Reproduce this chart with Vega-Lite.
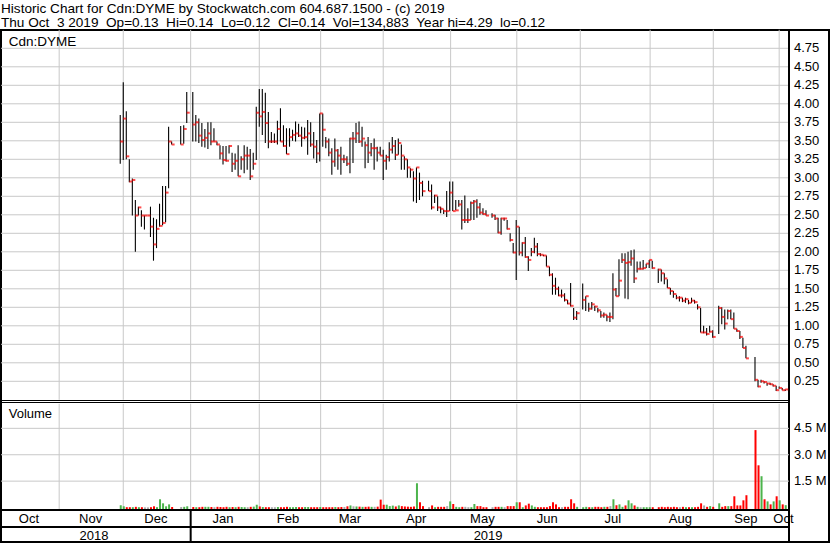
{
"$schema": "https://vega.github.io/schema/vega-lite/v6.json",
"width": 828, "height": 512,
"autosize": "none",
"padding": {"top": 30, "left": 1, "right": 1, "bottom": 1},
"background": "white",
"config": {"view": {"stroke": "#000", "strokeWidth": 2}, "font": "Liberation Sans"},
"title": {"text": ["Historic Chart for Cdn:DYME by Stockwatch.com 604.687.1500 - (c) 2019", "Thu Oct \u00a03 2019 \u00a0Op=0.13 \u00a0Hi=0.14 \u00a0Lo=0.12 \u00a0Cl=0.14 \u00a0Vol=134,883 \u00a0Year hi=4.29 \u00a0lo=0.12"], "anchor": "start", "frame": "group", "orient": "top", "offset": -15, "baseline": "bottom", "font": "Liberation Sans", "fontSize": 13.6, "fontWeight": "normal", "color": "#000", "lineHeight": 14},
"datasets": {
"bars": [
{"k":20,"h":3.85,"l":3.19,"c":3.49,"v":130000,"d":"up"},
{"k":21,"h":4.29,"l":3.24,"c":3.80,"v":70000,"d":"up"},
{"k":22,"h":3.90,"l":3.25,"c":3.29,"v":20000,"d":"down"},
{"k":23,"h":3.25,"l":2.94,"c":2.95,"v":20000,"d":"down"},
{"k":24,"h":2.99,"l":2.49,"c":2.97,"v":20000,"d":"up"},
{"k":25,"h":2.70,"l":2.00,"c":2.49,"v":40000,"d":"down"},
{"k":26,"h":2.61,"l":2.49,"c":2.60,"v":20000,"d":"up"},
{"k":27,"h":2.56,"l":2.34,"c":2.49,"v":20000,"d":"down"},
{"k":28,"h":2.49,"l":2.30,"c":2.49,"v":10000,"d":"flat"},
{"k":29,"h":2.49,"l":2.49,"c":2.49,"v":10000,"d":"flat"},
{"k":30,"h":2.61,"l":2.20,"c":2.34,"v":20000,"d":"down"},
{"k":31,"h":2.46,"l":1.88,"c":2.10,"v":70000,"d":"down"},
{"k":32,"h":2.44,"l":2.05,"c":2.31,"v":20000,"d":"up"},
{"k":33,"h":2.65,"l":2.34,"c":2.35,"v":470000,"d":"up"},
{"k":34,"h":2.89,"l":2.36,"c":2.39,"v":240000,"d":"up"},
{"k":35,"h":2.89,"l":2.40,"c":2.80,"v":70000,"d":"up"},
{"k":36,"h":3.69,"l":2.86,"c":3.49,"v":180000,"d":"up"},
{"k":37,"h":3.49,"l":3.45,"c":3.45,"v":30000,"d":"down"},
{"k":40,"h":3.70,"l":3.45,"c":3.45,"v":30000,"d":"flat"},
{"k":41,"h":3.71,"l":3.46,"c":3.66,"v":40000,"d":"up"},
{"k":42,"h":4.16,"l":3.74,"c":3.88,"v":70000,"d":"up"},
{"k":44,"h":4.16,"l":3.49,"c":3.72,"v":30000,"d":"down"},
{"k":45,"h":3.85,"l":3.49,"c":3.75,"v":20000,"d":"up"},
{"k":46,"h":3.80,"l":3.47,"c":3.57,"v":20000,"d":"down"},
{"k":47,"h":3.74,"l":3.42,"c":3.51,"v":40000,"d":"down"},
{"k":48,"h":3.66,"l":3.41,"c":3.54,"v":40000,"d":"up"},
{"k":49,"h":3.75,"l":3.39,"c":3.60,"v":40000,"d":"up"},
{"k":50,"h":3.75,"l":3.44,"c":3.49,"v":30000,"d":"down"},
{"k":51,"h":3.67,"l":3.49,"c":3.49,"v":20000,"d":"flat"},
{"k":52,"h":3.49,"l":3.44,"c":3.45,"v":40000,"d":"down"},
{"k":53,"h":3.44,"l":3.25,"c":3.33,"v":30000,"d":"down"},
{"k":54,"h":3.43,"l":3.18,"c":3.24,"v":20000,"d":"down"},
{"k":55,"h":3.43,"l":3.22,"c":3.23,"v":40000,"d":"down"},
{"k":56,"h":3.44,"l":3.33,"c":3.43,"v":20000,"d":"up"},
{"k":57,"h":3.34,"l":3.08,"c":3.19,"v":30000,"d":"down"},
{"k":58,"h":3.33,"l":3.11,"c":3.23,"v":20000,"d":"up"},
{"k":59,"h":3.44,"l":3.02,"c":3.02,"v":40000,"d":"down"},
{"k":60,"h":3.29,"l":3.11,"c":3.25,"v":30000,"d":"up"},
{"k":61,"h":3.44,"l":3.06,"c":3.30,"v":20000,"d":"up"},
{"k":62,"h":3.42,"l":3.11,"c":3.30,"v":20000,"d":"flat"},
{"k":63,"h":3.39,"l":2.97,"c":3.02,"v":40000,"d":"down"},
{"k":64,"h":3.34,"l":3.11,"c":3.19,"v":50000,"d":"up"},
{"k":65,"h":3.96,"l":3.24,"c":3.88,"v":160000,"d":"up"},
{"k":66,"h":4.20,"l":3.69,"c":3.83,"v":60000,"d":"down"},
{"k":67,"h":4.20,"l":3.58,"c":3.89,"v":30000,"d":"up"},
{"k":68,"h":4.15,"l":3.47,"c":3.74,"v":20000,"d":"down"},
{"k":69,"h":3.89,"l":3.40,"c":3.49,"v":20000,"d":"down"},
{"k":70,"h":3.62,"l":3.47,"c":3.49,"v":20000,"d":"flat"},
{"k":71,"h":3.60,"l":3.47,"c":3.49,"v":20000,"d":"flat"},
{"k":72,"h":3.77,"l":3.45,"c":3.66,"v":30000,"d":"up"},
{"k":73,"h":3.94,"l":3.49,"c":3.49,"v":20000,"d":"down"},
{"k":74,"h":3.71,"l":3.42,"c":3.43,"v":20000,"d":"down"},
{"k":75,"h":3.67,"l":3.32,"c":3.32,"v":40000,"d":"down"},
{"k":76,"h":3.67,"l":3.42,"c":3.55,"v":20000,"d":"up"},
{"k":77,"h":3.65,"l":3.50,"c":3.58,"v":20000,"d":"up"},
{"k":78,"h":3.76,"l":3.49,"c":3.60,"v":30000,"d":"up"},
{"k":79,"h":3.73,"l":3.55,"c":3.57,"v":20000,"d":"down"},
{"k":80,"h":3.69,"l":3.42,"c":3.54,"v":20000,"d":"down"},
{"k":81,"h":3.68,"l":3.52,"c":3.55,"v":30000,"d":"up"},
{"k":82,"h":3.78,"l":3.31,"c":3.60,"v":30000,"d":"up"},
{"k":83,"h":3.75,"l":3.42,"c":3.45,"v":20000,"d":"down"},
{"k":84,"h":3.62,"l":3.26,"c":3.42,"v":20000,"d":"down"},
{"k":85,"h":3.51,"l":3.20,"c":3.33,"v":20000,"d":"down"},
{"k":86,"h":3.87,"l":3.22,"c":3.87,"v":30000,"d":"up"},
{"k":87,"h":3.87,"l":3.42,"c":3.65,"v":20000,"d":"down"},
{"k":88,"h":3.55,"l":3.40,"c":3.49,"v":20000,"d":"down"},
{"k":89,"h":3.53,"l":3.29,"c":3.34,"v":20000,"d":"down"},
{"k":90,"h":3.40,"l":3.04,"c":3.22,"v":20000,"d":"down"},
{"k":91,"h":3.53,"l":3.15,"c":3.37,"v":30000,"d":"up"},
{"k":92,"h":3.39,"l":3.11,"c":3.30,"v":20000,"d":"down"},
{"k":93,"h":3.42,"l":3.04,"c":3.25,"v":30000,"d":"down"},
{"k":94,"h":3.31,"l":3.20,"c":3.25,"v":30000,"d":"flat"},
{"k":95,"h":3.29,"l":3.16,"c":3.19,"v":70000,"d":"down"},
{"k":96,"h":3.54,"l":3.06,"c":3.53,"v":120000,"d":"up"},
{"k":97,"h":3.62,"l":3.20,"c":3.53,"v":70000,"d":"flat"},
{"k":98,"h":3.74,"l":3.47,"c":3.60,"v":60000,"d":"up"},
{"k":99,"h":3.76,"l":3.47,"c":3.49,"v":50000,"d":"down"},
{"k":100,"h":3.69,"l":3.42,"c":3.53,"v":40000,"d":"up"},
{"k":101,"h":3.49,"l":3.13,"c":3.44,"v":40000,"d":"down"},
{"k":102,"h":3.55,"l":3.20,"c":3.34,"v":50000,"d":"down"},
{"k":103,"h":3.47,"l":3.29,"c":3.40,"v":40000,"d":"up"},
{"k":104,"h":3.53,"l":3.11,"c":3.40,"v":40000,"d":"flat"},
{"k":105,"h":3.42,"l":3.22,"c":3.34,"v":50000,"d":"down"},
{"k":106,"h":3.42,"l":3.30,"c":3.30,"v":450000,"d":"down"},
{"k":107,"h":3.38,"l":2.97,"c":3.23,"v":160000,"d":"down"},
{"k":108,"h":3.31,"l":3.11,"c":3.28,"v":160000,"d":"up"},
{"k":109,"h":3.48,"l":3.22,"c":3.38,"v":80000,"d":"up"},
{"k":110,"h":3.55,"l":3.33,"c":3.43,"v":110000,"d":"up"},
{"k":111,"h":3.51,"l":3.24,"c":3.31,"v":60000,"d":"down"},
{"k":112,"h":3.53,"l":3.31,"c":3.47,"v":120000,"d":"up"},
{"k":113,"h":3.45,"l":3.11,"c":3.30,"v":80000,"d":"down"},
{"k":114,"h":3.29,"l":3.11,"c":3.25,"v":60000,"d":"down"},
{"k":115,"h":3.25,"l":3.00,"c":3.14,"v":50000,"d":"down"},
{"k":116,"h":3.13,"l":3.00,"c":3.11,"v":40000,"d":"down"},
{"k":117,"h":3.09,"l":2.68,"c":2.99,"v":60000,"d":"down"},
{"k":118,"h":3.14,"l":2.66,"c":3.14,"v":1380000,"d":"up"},
{"k":119,"h":3.07,"l":2.70,"c":2.93,"v":300000,"d":"down"},
{"k":120,"h":2.96,"l":2.75,"c":2.82,"v":80000,"d":"down"},
{"k":122,"h":2.96,"l":2.82,"c":2.82,"v":20000,"d":"flat"},
{"k":123,"h":2.91,"l":2.57,"c":2.60,"v":120000,"d":"down"},
{"k":124,"h":2.77,"l":2.66,"c":2.76,"v":20000,"d":"up"},
{"k":125,"h":2.75,"l":2.55,"c":2.60,"v":40000,"d":"down"},
{"k":126,"h":2.61,"l":2.52,"c":2.58,"v":40000,"d":"down"},
{"k":127,"h":2.57,"l":2.51,"c":2.55,"v":40000,"d":"down"},
{"k":128,"h":2.82,"l":2.47,"c":2.55,"v":80000,"d":"flat"},
{"k":129,"h":2.95,"l":2.55,"c":2.80,"v":350000,"d":"up"},
{"k":130,"h":2.95,"l":2.55,"c":2.55,"v":200000,"d":"down"},
{"k":131,"h":2.70,"l":2.56,"c":2.56,"v":40000,"d":"up"},
{"k":132,"h":2.70,"l":2.61,"c":2.64,"v":20000,"d":"up"},
{"k":133,"h":2.70,"l":2.30,"c":2.43,"v":40000,"d":"down"},
{"k":134,"h":2.76,"l":2.39,"c":2.43,"v":40000,"d":"flat"},
{"k":135,"h":2.59,"l":2.39,"c":2.43,"v":20000,"d":"flat"},
{"k":136,"h":2.68,"l":2.43,"c":2.66,"v":20000,"d":"up"},
{"k":137,"h":2.70,"l":2.43,"c":2.68,"v":200000,"d":"up"},
{"k":138,"h":2.71,"l":2.46,"c":2.60,"v":80000,"d":"down"},
{"k":139,"h":2.66,"l":2.50,"c":2.53,"v":80000,"d":"down"},
{"k":140,"h":2.59,"l":2.50,"c":2.51,"v":20000,"d":"down"},
{"k":141,"h":2.56,"l":2.49,"c":2.49,"v":20000,"d":"down"},
{"k":143,"h":2.52,"l":2.46,"c":2.49,"v":20000,"d":"flat"},
{"k":144,"h":2.50,"l":2.43,"c":2.45,"v":40000,"d":"down"},
{"k":145,"h":2.46,"l":2.25,"c":2.26,"v":40000,"d":"down"},
{"k":146,"h":2.46,"l":2.23,"c":2.45,"v":40000,"d":"up"},
{"k":147,"h":2.46,"l":2.42,"c":2.45,"v":20000,"d":"flat"},
{"k":148,"h":2.43,"l":2.30,"c":2.31,"v":80000,"d":"down"},
{"k":149,"h":2.25,"l":2.14,"c":2.16,"v":80000,"d":"down"},
{"k":150,"h":2.12,"l":1.98,"c":1.99,"v":80000,"d":"down"},
{"k":151,"h":2.43,"l":1.62,"c":2.34,"v":300000,"d":"up"},
{"k":152,"h":2.34,"l":1.95,"c":1.99,"v":300000,"d":"down"},
{"k":153,"h":2.13,"l":1.94,"c":2.12,"v":20000,"d":"up"},
{"k":154,"h":2.20,"l":1.92,"c":1.93,"v":120000,"d":"down"},
{"k":155,"h":1.94,"l":1.74,"c":1.89,"v":220000,"d":"down"},
{"k":156,"h":2.05,"l":1.94,"c":2.00,"v":120000,"d":"up"},
{"k":157,"h":2.19,"l":1.98,"c":2.07,"v":40000,"d":"up"},
{"k":158,"h":2.12,"l":1.94,"c":1.97,"v":20000,"d":"down"},
{"k":159,"h":1.98,"l":1.94,"c":1.96,"v":20000,"d":"down"},
{"k":160,"h":1.96,"l":1.94,"c":1.95,"v":20000,"d":"down"},
{"k":161,"h":1.95,"l":1.80,"c":1.80,"v":20000,"d":"down"},
{"k":162,"h":1.80,"l":1.67,"c":1.69,"v":80000,"d":"down"},
{"k":163,"h":1.71,"l":1.42,"c":1.54,"v":300000,"d":"down"},
{"k":164,"h":1.65,"l":1.42,"c":1.50,"v":180000,"d":"down"},
{"k":165,"h":1.53,"l":1.40,"c":1.41,"v":20000,"d":"down"},
{"k":166,"h":1.49,"l":1.38,"c":1.41,"v":20000,"d":"flat"},
{"k":167,"h":1.44,"l":1.33,"c":1.35,"v":40000,"d":"down"},
{"k":168,"h":1.35,"l":1.29,"c":1.30,"v":40000,"d":"down"},
{"k":169,"h":1.58,"l":1.26,"c":1.27,"v":470000,"d":"down"},
{"k":170,"h":1.24,"l":1.08,"c":1.11,"v":240000,"d":"down"},
{"k":171,"h":1.20,"l":1.08,"c":1.17,"v":40000,"d":"up"},
{"k":173,"h":1.57,"l":1.22,"c":1.35,"v":20000,"d":"up"},
{"k":174,"h":1.40,"l":1.20,"c":1.40,"v":40000,"d":"up"},
{"k":175,"h":1.31,"l":1.19,"c":1.23,"v":20000,"d":"down"},
{"k":176,"h":1.32,"l":1.22,"c":1.29,"v":20000,"d":"up"},
{"k":177,"h":1.27,"l":1.20,"c":1.26,"v":40000,"d":"down"},
{"k":178,"h":1.24,"l":1.18,"c":1.21,"v":40000,"d":"down"},
{"k":179,"h":1.20,"l":1.11,"c":1.14,"v":20000,"d":"down"},
{"k":180,"h":1.18,"l":1.11,"c":1.15,"v":40000,"d":"up"},
{"k":181,"h":1.15,"l":1.06,"c":1.12,"v":40000,"d":"down"},
{"k":182,"h":1.18,"l":1.05,"c":1.12,"v":80000,"d":"flat"},
{"k":183,"h":1.71,"l":1.09,"c":1.49,"v":470000,"d":"up"},
{"k":184,"h":1.51,"l":1.40,"c":1.40,"v":130000,"d":"down"},
{"k":185,"h":1.90,"l":1.40,"c":1.61,"v":180000,"d":"up"},
{"k":186,"h":1.98,"l":1.85,"c":1.89,"v":40000,"d":"up"},
{"k":187,"h":1.98,"l":1.37,"c":1.85,"v":120000,"d":"down"},
{"k":188,"h":2.00,"l":1.36,"c":1.86,"v":410000,"d":"up"},
{"k":189,"h":2.02,"l":1.81,"c":1.91,"v":240000,"d":"up"},
{"k":190,"h":2.03,"l":1.58,"c":1.64,"v":120000,"d":"down"},
{"k":191,"h":1.87,"l":1.72,"c":1.77,"v":40000,"d":"up"},
{"k":192,"h":1.87,"l":1.76,"c":1.77,"v":20000,"d":"flat"},
{"k":193,"h":1.89,"l":1.76,"c":1.78,"v":20000,"d":"up"},
{"k":194,"h":1.84,"l":1.78,"c":1.84,"v":20000,"d":"up"},
{"k":195,"h":1.89,"l":1.78,"c":1.89,"v":20000,"d":"up"},
{"k":196,"h":1.88,"l":1.77,"c":1.78,"v":20000,"d":"down"},
{"k":198,"h":1.77,"l":1.58,"c":1.76,"v":20000,"d":"down"},
{"k":199,"h":1.76,"l":1.60,"c":1.71,"v":40000,"d":"down"},
{"k":200,"h":1.71,"l":1.56,"c":1.64,"v":20000,"d":"down"},
{"k":201,"h":1.63,"l":1.51,"c":1.51,"v":40000,"d":"down"},
{"k":202,"h":1.51,"l":1.42,"c":1.47,"v":20000,"d":"down"},
{"k":203,"h":1.47,"l":1.38,"c":1.43,"v":40000,"d":"down"},
{"k":204,"h":1.42,"l":1.36,"c":1.38,"v":20000,"d":"down"},
{"k":205,"h":1.40,"l":1.33,"c":1.38,"v":20000,"d":"flat"},
{"k":206,"h":1.38,"l":1.32,"c":1.34,"v":40000,"d":"down"},
{"k":207,"h":1.38,"l":1.31,"c":1.36,"v":20000,"d":"up"},
{"k":208,"h":1.35,"l":1.29,"c":1.31,"v":20000,"d":"down"},
{"k":209,"h":1.38,"l":1.31,"c":1.34,"v":20000,"d":"up"},
{"k":210,"h":1.35,"l":1.30,"c":1.32,"v":20000,"d":"down"},
{"k":211,"h":1.29,"l":1.22,"c":1.25,"v":40000,"d":"down"},
{"k":212,"h":1.24,"l":0.91,"c":0.91,"v":240000,"d":"down"},
{"k":213,"h":1.00,"l":0.90,"c":0.91,"v":120000,"d":"flat"},
{"k":214,"h":0.97,"l":0.87,"c":0.89,"v":40000,"d":"down"},
{"k":215,"h":1.00,"l":0.91,"c":0.92,"v":80000,"d":"up"},
{"k":216,"h":0.94,"l":0.84,"c":0.85,"v":40000,"d":"down"},
{"k":218,"h":1.27,"l":0.89,"c":1.24,"v":240000,"d":"up"},
{"k":219,"h":1.25,"l":1.02,"c":1.12,"v":40000,"d":"down"},
{"k":220,"h":1.22,"l":0.95,"c":1.03,"v":80000,"d":"down"},
{"k":221,"h":1.22,"l":1.09,"c":1.20,"v":80000,"d":"up"},
{"k":222,"h":1.22,"l":1.09,"c":1.09,"v":80000,"d":"down"},
{"k":223,"h":1.18,"l":0.96,"c":0.96,"v":640000,"d":"down"},
{"k":224,"h":0.96,"l":0.92,"c":0.93,"v":120000,"d":"down"},
{"k":225,"h":0.93,"l":0.82,"c":0.85,"v":120000,"d":"down"},
{"k":226,"h":0.84,"l":0.70,"c":0.70,"v":410000,"d":"down"},
{"k":227,"h":0.73,"l":0.56,"c":0.56,"v":700000,"d":"down"},
{"k":230,"h":0.58,"l":0.25,"c":0.27,"v":4400000,"d":"down"},
{"k":231,"h":0.27,"l":0.17,"c":0.18,"v":2400000,"d":"down"},
{"k":232,"h":0.27,"l":0.23,"c":0.25,"v":1780000,"d":"up"},
{"k":233,"h":0.25,"l":0.22,"c":0.24,"v":470000,"d":"down"},
{"k":234,"h":0.23,"l":0.19,"c":0.22,"v":350000,"d":"up"},
{"k":235,"h":0.23,"l":0.20,"c":0.21,"v":180000,"d":"down"},
{"k":236,"h":0.21,"l":0.18,"c":0.19,"v":350000,"d":"up"},
{"k":237,"h":0.19,"l":0.12,"c":0.13,"v":640000,"d":"down"},
{"k":238,"h":0.18,"l":0.15,"c":0.16,"v":410000,"d":"up"},
{"k":239,"h":0.16,"l":0.13,"c":0.13,"v":180000,"d":"down"},
{"k":240,"h":0.14,"l":0.12,"c":0.14,"v":134883,"d":"up"}
],
"mgrid": [{"k":-0.2},{"k":21},{"k":43.3},{"k":66},{"k":86.3},{"k":107},{"k":129.3},{"k":151.2},{"k":172.2},{"k":195.3},{"k":216.2},{"k":238}],
"pgrid": [{"p":0.25},{"p":0.5},{"p":0.75},{"p":1},{"p":1.25},{"p":1.5},{"p":1.75},{"p":2},{"p":2.25},{"p":2.5},{"p":2.75},{"p":3},{"p":3.25},{"p":3.5},{"p":3.75},{"p":4},{"p":4.25},{"p":4.5},{"p":4.75}],
"vgrid": [{"v":1500000,"t":"1.5 M"},{"v":3000000,"t":"3.0 M"},{"v":4500000,"t":"4.5 M"}],
"months": [{"k":-10.2,"m":"Oct"},{"k":10.2,"m":"Nov"},{"k":31.8,"m":"Dec"},{"k":54.0,"m":"Jan"},{"k":75.5,"m":"Feb"},{"k":96.0,"m":"Mar"},{"k":117.9,"m":"Apr"},{"k":139.8,"m":"May"},{"k":161.3,"m":"Jun"},{"k":183.0,"m":"Jul"},{"k":205.3,"m":"Aug"},{"k":227.0,"m":"Sep"},{"k":239.4,"m":"Oct"}],
"years": [{"k":11.3,"t":"2018"},{"k":141.7,"t":"2019"}],
"lab1": [{"t":"Cdn:DYME"}],
"lab2": [{"t":"Volume"}]
},
"layer": [
{"layer": [
 {"data": {"name": "pgrid"}, "mark": {"type": "rule", "color": "#c8c8c8", "strokeWidth": 1},
  "encoding": {"y": {"field": "p", "type": "quantitative", "scale": {"domain": [0, 5], "range": [369.8, -0.2], "nice": false, "zero": false, "padding": 0}, "axis": null},
   "x": {"datum": -19.45, "type": "quantitative", "scale": {"domain": [-19.45, 241.25], "range": [0, 788], "nice": false, "zero": false, "padding": 0}, "axis": null}, "x2": {"datum": 241.25}}},
 {"data": {"name": "mgrid"}, "mark": {"type": "rule", "color": "#c8c8c8", "strokeWidth": 1},
  "encoding": {"x": {"field": "k", "type": "quantitative", "axis": null},
   "y": {"datum": 0, "type": "quantitative", "axis": null}, "y2": {"datum": 5}}},
 {"data": {"name": "lab1"}, "mark": {"type": "rule", "color": "#000", "strokeWidth": 1},
  "encoding": {"x": {"datum": -19.45, "type": "quantitative", "axis": null}, "x2": {"datum": 241.25}, "y": {"datum": -0.0095, "type": "quantitative", "axis": null}}},
 {"data": {"name": "lab1"}, "mark": {"type": "rule", "color": "#000", "strokeWidth": 2},
  "encoding": {"x": {"datum": 241.25, "type": "quantitative", "axis": null}, "y": {"datum": 5, "type": "quantitative", "axis": null}, "y2": {"datum": -1.93}}},
 {"data": {"name": "bars"}, "mark": {"type": "rule", "color": "#000", "strokeWidth": 1.1},
  "encoding": {"x": {"field": "k", "type": "quantitative", "axis": null},
   "y": {"field": "h", "type": "quantitative", "axis": null}, "y2": {"field": "l"}}},
 {"data": {"name": "bars"}, "mark": {"type": "tick", "color": "#ff0000", "orient": "horizontal", "size": 3, "thickness": 2, "xOffset": 1.5},
  "encoding": {"x": {"field": "k", "type": "quantitative", "axis": null}, "y": {"field": "c", "type": "quantitative", "axis": null}}},
 {"data": {"name": "pgrid"}, "mark": {"type": "text", "align": "left", "baseline": "middle", "dx": 5, "fontSize": 13, "font": "Liberation Sans", "color": "#000"},
  "encoding": {"x": {"datum": 241.25, "type": "quantitative", "axis": null}, "y": {"field": "p", "type": "quantitative", "axis": null}, "text": {"field": "p", "type": "quantitative", "format": ".2f"}}},
 {"data": {"name": "lab1"}, "mark": {"type": "text", "align": "left", "baseline": "alphabetic", "fontSize": 13.5, "font": "Liberation Sans", "color": "#000"},
  "encoding": {"x": {"datum": -16.9, "type": "quantitative", "axis": null}, "y": {"datum": 4.78, "type": "quantitative", "axis": null}, "text": {"field": "t"}}}
]},
{"layer": [
 {"data": {"name": "vgrid"}, "mark": {"type": "rule", "color": "#c8c8c8", "strokeWidth": 1},
  "encoding": {"y": {"field": "v", "type": "quantitative", "scale": {"domain": [-100000, 5900000], "range": [479.3, 373.7], "nice": false, "zero": false, "padding": 0}, "axis": null},
   "x": {"datum": -19.45, "type": "quantitative", "axis": null}, "x2": {"datum": 241.25}}},
 {"data": {"name": "mgrid"}, "mark": {"type": "rule", "color": "#c8c8c8", "strokeWidth": 1},
  "encoding": {"x": {"field": "k", "type": "quantitative", "axis": null},
   "y": {"datum": -100000, "type": "quantitative", "axis": null}, "y2": {"datum": 5900000}}},
 {"data": {"name": "bars"}, "mark": {"type": "bar", "size": 2, "xOffset": 0.5},
  "encoding": {
   "x": {"field": "k", "type": "quantitative", "scale": {"domain": [-19.45, 241.25], "range": [0, 788], "nice": false, "zero": false, "padding": 0}, "axis": null},
   "y": {"field": "v", "type": "quantitative", "axis": null},
   "y2": {"datum": -100000},
   "color": {"field": "d", "type": "nominal", "scale": {"domain": ["up", "down", "flat"], "range": ["#4cb44c", "#ff0000", "#a8a8a8"]}, "legend": null}}},
 {"data": {"name": "lab2"}, "mark": {"type": "rule", "color": "#000", "strokeWidth": 1},
  "encoding": {"x": {"datum": -19.45, "type": "quantitative", "axis": null}, "x2": {"datum": 241.25}, "y": {"datum": 5968000, "type": "quantitative", "axis": null}}},
 {"data": {"name": "lab2"}, "mark": {"type": "rule", "color": "#000", "strokeWidth": 2},
  "encoding": {"x": {"datum": -19.45, "type": "quantitative", "axis": null}, "x2": {"datum": 241.25}, "y": {"datum": -139800, "type": "quantitative", "axis": null}}},
 {"data": {"name": "lab2"}, "mark": {"type": "rule", "color": "#000", "strokeWidth": 2},
  "encoding": {"x": {"datum": -19.45, "type": "quantitative", "axis": null}, "x2": {"datum": 241.25}, "y": {"datum": -1105700, "type": "quantitative", "axis": null}}},
 {"data": {"name": "lab2"}, "mark": {"type": "rule", "color": "#000", "strokeWidth": 2},
  "encoding": {"x": {"datum": 43.3, "type": "quantitative", "axis": null}, "y": {"datum": -139800, "type": "quantitative", "axis": null}, "y2": {"datum": -1958000}}},
 {"data": {"name": "vgrid"}, "mark": {"type": "text", "align": "left", "baseline": "middle", "dx": 5, "fontSize": 13, "font": "Liberation Sans", "color": "#000"},
  "encoding": {"x": {"datum": 241.25, "type": "quantitative", "axis": null}, "y": {"field": "v", "type": "quantitative", "axis": null}, "text": {"field": "t"}}},
 {"data": {"name": "months"}, "mark": {"type": "text", "align": "center", "baseline": "alphabetic", "fontSize": 13, "font": "Liberation Sans", "color": "#000"},
  "encoding": {"x": {"field": "k", "type": "quantitative", "axis": null}, "y": {"datum": -861000, "type": "quantitative", "axis": null}, "text": {"field": "m"}}},
 {"data": {"name": "years"}, "mark": {"type": "text", "align": "center", "baseline": "alphabetic", "fontSize": 13, "font": "Liberation Sans", "color": "#000"},
  "encoding": {"x": {"field": "k", "type": "quantitative", "axis": null}, "y": {"datum": -1827300, "type": "quantitative", "axis": null}, "text": {"field": "t"}}},
 {"data": {"name": "lab2"}, "mark": {"type": "text", "align": "left", "baseline": "alphabetic", "fontSize": 13, "font": "Liberation Sans", "color": "#000"},
  "encoding": {"x": {"datum": -16.9, "type": "quantitative", "axis": null}, "y": {"datum": 5070000, "type": "quantitative", "axis": null}, "text": {"field": "t"}}}
]}
],
"resolve": {"scale": {"y": "independent"}}
}
